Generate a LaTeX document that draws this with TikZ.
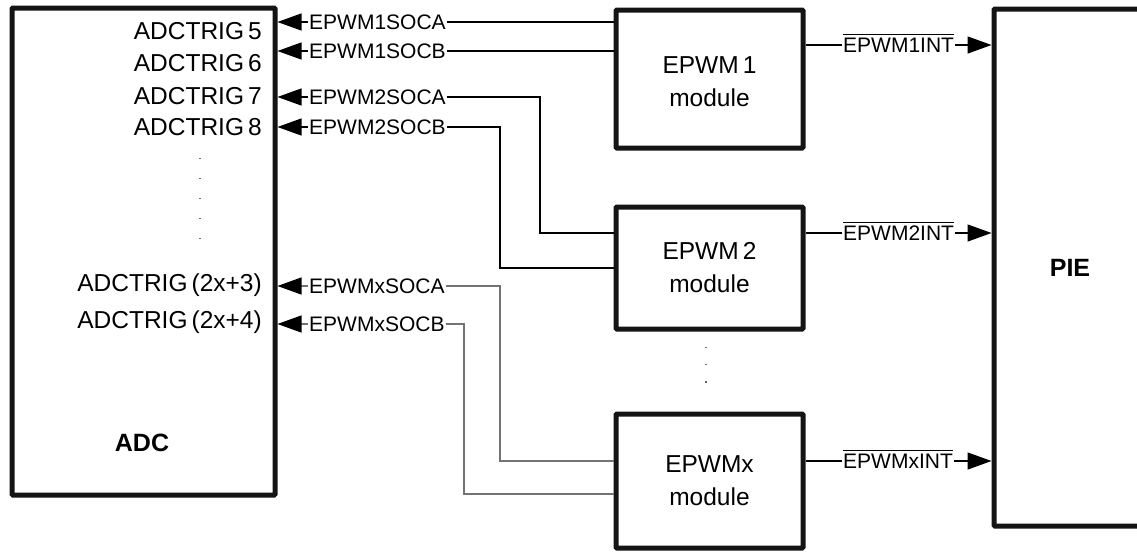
\documentclass[tikz,border=0pt]{standalone}
\usepackage{fontspec}
\setmainfont{Liberation Sans}
\usetikzlibrary{arrows.meta, positioning, calc}

\newcommand{\barsig}[1]{\leavevmode\vbox{\hrule height 1.3pt \kern 2.2pt \hbox{#1}}}

\begin{document}
\begin{tikzpicture}[x=1pt, y=-1pt,
    blk/.style={draw=black!92, line width=5pt, inner sep=0pt, rounded corners=1pt},
    sig/.style={line width=1.3pt, black},
    sigx/.style={line width=1.3pt, black!55},
    tip/.style={-{Triangle[length=24pt, width=17pt, black]}},
    lbl/.style={font=\fontsize{21}{25}\selectfont, inner sep=1pt, anchor=west},
    trig/.style={font=\fontsize{24.5}{28}\selectfont, inner sep=0pt, anchor=east},
    modtxt/.style={font=\fontsize{24.5}{33}\selectfont, align=center},
    dotline/.style={black!60, line width=1.2pt}]
  \useasboundingbox (0,0) rectangle (1137,554);

  % blocks
  \node[blk, minimum width=263pt, minimum height=487pt] (adc) at (143.5,251.5) {};
  \node[blk, minimum width=187pt, minimum height=138pt] (pwm1) at (709.5,79) {};
  \node[modtxt] (pwm1txt) at (709.5,82) {EPWM\,1\\module};
  \node[blk, minimum width=187pt, minimum height=122pt, modtxt] (pwm2) at (709.5,268) {EPWM\,2\\module};
  \node[blk, minimum width=187pt, minimum height=134pt, modtxt] (pwmx) at (709.5,481) {EPWMx\\module};
  \node[blk, minimum width=152pt, minimum height=517pt,
        font=\bfseries\fontsize{25}{30}\selectfont] (pie) at (1070,267.5) {PIE};
  \node[font=\bfseries\fontsize{25}{30}\selectfont] (adclbl) at (142,443) {ADC};

  % trigger inputs
  \node[trig] (t5) at (262,31) {ADCTRIG\,5};
  \node[trig] (t6) at (262,63) {ADCTRIG\,6};
  \node[trig] (t7) at (262,96) {ADCTRIG\,7};
  \node[trig] (t8) at (262,127) {ADCTRIG\,8};
  \node[trig] (t9) at (262,285) {ADCTRIG\,(2x+3)};
  \node[trig] (t10) at (262,322) {ADCTRIG\,(2x+4)};
  \draw[dotline, dash pattern=on 1.2pt off 18.8pt] (200,158) -- (200,240);

  % SOC signals
  \node[lbl] (s1a) at (308,22) {EPWM1SOCA};
  \node[lbl] (s1b) at (308,51) {EPWM1SOCB};
  \node[lbl] (s2a) at (308,97) {EPWM2SOCA};
  \node[lbl] (s2b) at (308,127) {EPWM2SOCB};
  \node[lbl] (sxa) at (308,286) {EPWMxSOCA};
  \node[lbl] (sxb) at (308,324) {EPWMxSOCB};

  \draw[sig] (pwm1.west |- s1a) -- (s1a.east);
  \draw[sig, tip] (s1a.west) -- (adc.east |- s1a);
  \draw[sig] (pwm1.west |- s1b) -- (s1b.east);
  \draw[sig, tip] (s1b.west) -- (adc.east |- s1b);

  \draw[sig] (s2a.east) -| (540,233) -- (pwm2.west |- 0,233);
  \draw[sig, tip] (s2a.west) -- (adc.east |- s2a);
  \draw[sig] (s2b.east) -| (500,268) -- (pwm2.west |- 0,268);
  \draw[sig, tip] (s2b.west) -- (adc.east |- s2b);

  \draw[sigx] (sxa.east) -| (500,461) -- (pwmx.west |- 0,461);
  \draw[sigx, tip] (sxa.west) -- (adc.east |- sxa);
  \draw[sigx] (sxb.east) -| (464,494) -- (pwmx.west |- 0,494);
  \draw[sigx, tip] (sxb.west) -- (adc.east |- sxb);

  \draw[dotline, dash pattern=on 1.2pt off 16pt] (706,347) -- (706,392);

  % interrupts
  \node[lbl, anchor=base west] (i1) at (842,52) {\barsig{EPWM1INT}};
  \node[lbl, anchor=base west] (i2) at (842,240) {\barsig{EPWM2INT}};
  \node[lbl, anchor=base west] (ix) at (842,468) {\barsig{EPWMxINT}};
  \draw[sig] (pwm1.east |- 0,45) -- (i1.west |- 0,45);
  \draw[sig, tip] (i1.east |- 0,45) -- (pie.west |- 0,45);
  \draw[sig] (pwm2.east |- 0,233) -- (i2.west |- 0,233);
  \draw[sig, tip] (i2.east |- 0,233) -- (pie.west |- 0,233);
  \draw[sig] (pwmx.east |- 0,461) -- (ix.west |- 0,461);
  \draw[sig, tip] (ix.east |- 0,461) -- (pie.west |- 0,461);
\end{tikzpicture}
\end{document}
